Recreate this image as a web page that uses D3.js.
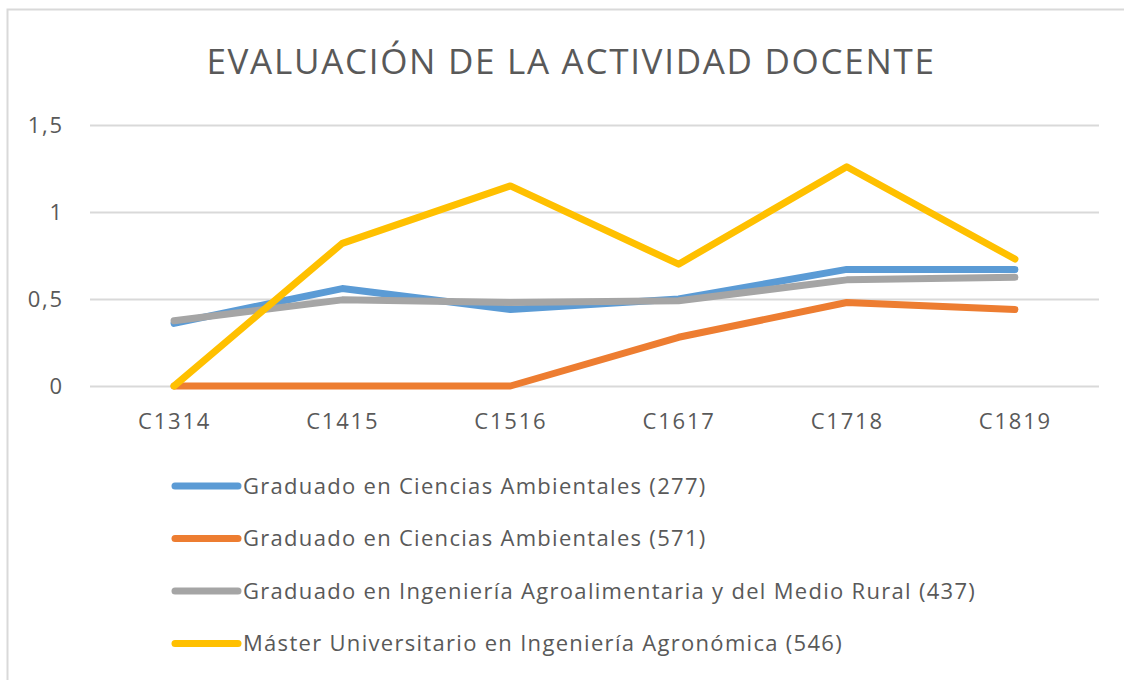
<!DOCTYPE html>
<html>
  <head>
    <meta charset="utf-8">
    <title>Evaluación de la actividad docente</title>
    <script src="https://d3js.org/d3.v7.min.js"></script>
    <style>
      body { margin: 0; background: #fff; }
      text { font-family: "Open Sans", Lato, sans-serif; fill: #595959; }
    </style>
  </head>
  <body>
<script>

// Data
var cursos = ["C1314", "C1415", "C1516", "C1617", "C1718", "C1819"];
var ambientales277 = [0.36, 0.56, 0.44, 0.50, 0.67, 0.67];
var ambientales571 = [0, 0, 0, 0.28, 0.48, 0.44];
var agroalimentaria437 = [0.375, 0.495, 0.48, 0.49, 0.61, 0.625];
var agronomica546 = [0, 0.82, 1.15, 0.70, 1.26, 0.73];
var yTicks = [0, 0.5, 1, 1.5];
var nombres = [
  "Graduado en Ciencias Ambientales (277)",
  "Graduado en Ciencias Ambientales (571)",
  "Graduado en Ingeniería Agroalimentaria y del Medio Rural (437)",
  "Máster Universitario en Ingeniería Agronómica (546)"
];
var colores = ["#5B9BD5", "#ED7D31", "#A5A5A5", "#FFC000"];

var series = [ambientales277, ambientales571, agroalimentaria437, agronomica546].map(function(v, i) {
  return { name: nombres[i], color: colores[i], values: v };
});

var width = 1124, height = 680;
var plot = { left: 90, right: 1099, top: 125, bottom: 386 };

var svg = d3.select("body").append("svg")
    .attr("width", width)
    .attr("height", height);

// chart frame (only the top and left edges show in the picture)
svg.append("path")
    .attr("d", "M7.5,680 V9.5 H1124")
    .attr("fill", "none")
    .attr("stroke", "#D9D9D9")
    .attr("stroke-width", 2);

var x = d3.scalePoint().domain(cursos).range([plot.left, plot.right]).padding(0.5);
var y = d3.scaleLinear().domain([0, 1.5]).range([plot.bottom, plot.top]);

var es = d3.formatLocale({ decimal: ",", thousands: ".", grouping: [3], currency: ["", "€"] });
var fmt = es.format("~g");

// Title
svg.append("text")
    .attr("x", 571)
    .attr("y", 74)
    .attr("text-anchor", "middle")
    .style("font-size", "35px")
    .style("letter-spacing", "1.7px")
    .text("EVALUACIÓN DE LA ACTIVIDAD DOCENTE");

// gridlines
var yAxis = svg.append("g")
    .attr("transform", "translate(" + plot.left + ",0)")
    .call(d3.axisLeft(y).tickValues(yTicks).tickSize(-(plot.right - plot.left)).tickPadding(26).tickFormat(fmt));
yAxis.select(".domain").remove();
yAxis.selectAll(".tick line").attr("stroke", "#D9D9D9").attr("stroke-width", 2);
yAxis.selectAll(".tick text").style("font-size", "22px").style("letter-spacing", "1.8px")
    .style("font-family", null).attr("fill", null);

var xAxis = svg.append("g")
    .attr("transform", "translate(0," + plot.bottom + ")")
    .call(d3.axisBottom(x).tickSize(0).tickPadding(27));
xAxis.select(".domain").remove();
xAxis.selectAll(".tick text").style("font-size", "22px").style("letter-spacing", "1.8px")
    .style("font-family", null).attr("fill", null);

// lines
var line = d3.line()
    .x(function(d, i) { return x(cursos[i]); })
    .y(function(d) { return y(d); });

svg.selectAll(".serie")
    .data(series)
    .enter().append("path")
    .attr("class", "serie")
    .attr("d", function(d) { return line(d.values); })
    .attr("fill", "none")
    .attr("stroke", function(d) { return d.color; })
    .attr("stroke-width", 7)
    .attr("stroke-linecap", "round")
    .attr("stroke-linejoin", "round");

// legend
var legend = svg.selectAll(".legend")
    .data(series)
    .enter().append("g")
    .attr("class", "legend")
    .attr("transform", function(d, i) { return "translate(175," + (486 + i * 52.5) + ")"; });

legend.append("line")
    .attr("x1", 0).attr("x2", 63)
    .attr("stroke", function(d) { return d.color; })
    .attr("stroke-width", 7)
    .attr("stroke-linecap", "round");

legend.append("text")
    .attr("x", 68)
    .attr("dy", "0.35em")
    .style("font-size", "22px")
    .style("letter-spacing", "1.3px")
    .text(function(d) { return d.name; });

</script>
  </body>
</html>
